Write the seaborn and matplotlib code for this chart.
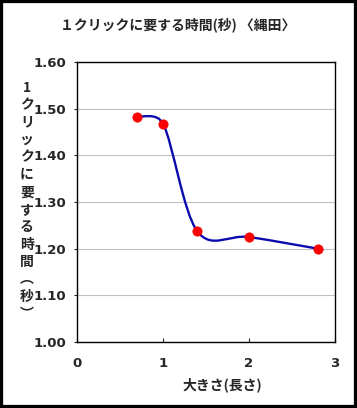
import numpy as np
import pandas as pd
import seaborn as sns
import matplotlib.pyplot as plt
from matplotlib.path import Path
from matplotlib.patches import PathPatch, Rectangle

# values
sizes = [0.7, 1.0, 1.4, 2.0, 2.8]
click_times = [1.483, 1.468, 1.237, 1.225, 1.200]
x_ticks = [0, 1, 2, 3]
y_ticks = [1.00, 1.10, 1.20, 1.30, 1.40, 1.50, 1.60]

title_text = "１クリックに要する時間(秒) 〈縄田〉"
xlabel_text = "大きさ(長さ)"
ylabel_chars = ["1", "ク", "リ", "ッ", "ク", "に", "要", "す", "る", "時", "間", "︵", "秒", "︶"]

df = pd.DataFrame({"size": sizes, "time": click_times})

sns.set_style("white")
plt.rcParams["font.family"] = ["Noto Sans CJK JP", "DejaVu Sans"]

fig = plt.figure(figsize=(3.57, 4.08), dpi=100)
ax = fig.add_axes([77 / 357, 1 - 342 / 408, 258 / 357, 280 / 408])
ax.set_xlim(0, 3)
ax.set_ylim(1.0, 1.6)

# smoothed line like Excel's "smoothed line" option: bezier through the points,
# handles worked out in screen space and kept under half the segment length
pts = ax.transData.transform(np.column_stack([sizes, click_times]))
ext = np.vstack([pts[0], pts, pts[-1]])
verts = [pts[0]]
codes = [Path.MOVETO]
for i in range(1, len(ext) - 2):
    p0, p1, p2, p3 = ext[i - 1], ext[i], ext[i + 1], ext[i + 2]
    seg = np.linalg.norm(p2 - p1)
    h1 = (p2 - p0) / 6
    h2 = (p3 - p1) / 6
    if np.linalg.norm(h1) > seg / 2:
        h1 = h1 / np.linalg.norm(h1) * seg / 2
    if np.linalg.norm(h2) > seg / 2:
        h2 = h2 / np.linalg.norm(h2) * seg / 2
    verts += [p1 + h1, p2 - h2, p2]
    codes += [Path.CURVE4] * 3
verts = ax.transData.inverted().transform(np.array(verts))
ax.add_patch(PathPatch(Path(verts, codes), fill=False, edgecolor="#0c0cae",
                       lw=1.7, zorder=3))

sns.scatterplot(data=df, x="size", y="time", ax=ax, color="#ff0000",
                edgecolor="#ee0000", s=45, linewidth=0.5, zorder=4, legend=False)

ax.set_xlim(0, 3)
ax.set_ylim(1.0, 1.6)
ax.set_xticks(x_ticks)
ax.set_xticklabels([str(t) for t in x_ticks])
ax.set_yticks(y_ticks)
ax.set_yticklabels([f"{t:.2f}" for t in y_ticks])
ax.set_xlabel("")
ax.set_ylabel("")

ax.grid(axis="y", color="#c0c0c0", lw=0.8)
ax.grid(axis="x", visible=False)
for sp in ax.spines.values():
    sp.set_color("black")
    sp.set_linewidth(1.0)

for lbl in ax.get_xticklabels() + ax.get_yticklabels():
    lbl.set_fontfamily("DejaVu Sans")
    lbl.set_fontweight("bold")
    lbl.set_fontsize(9.5)
ax.tick_params(axis="x", bottom=True, direction="in", length=3, width=0.8, pad=11)
ax.tick_params(axis="y", left=True, direction="out", length=2, width=0.8, pad=6)

fig.text(178 / 357, 1 - 25 / 408, title_text, ha="center", va="center",
         fontsize=10, fontweight="bold")
fig.text(222 / 357, 1 - 385 / 408, xlabel_text, ha="center", va="center",
         fontsize=10, fontweight="bold")
fig.text(27 / 357, 1 - 201 / 408, "\n".join(ylabel_chars), ha="center",
         va="center", fontsize=10, fontweight="bold", linespacing=1.31)

# black frame round the whole chart
fig.patches.append(Rectangle((0, 0), 1, 1, transform=fig.transFigure,
                             fill=False, edgecolor="black", lw=4.5))

fig.savefig("out.png", dpi=100, facecolor="white")
